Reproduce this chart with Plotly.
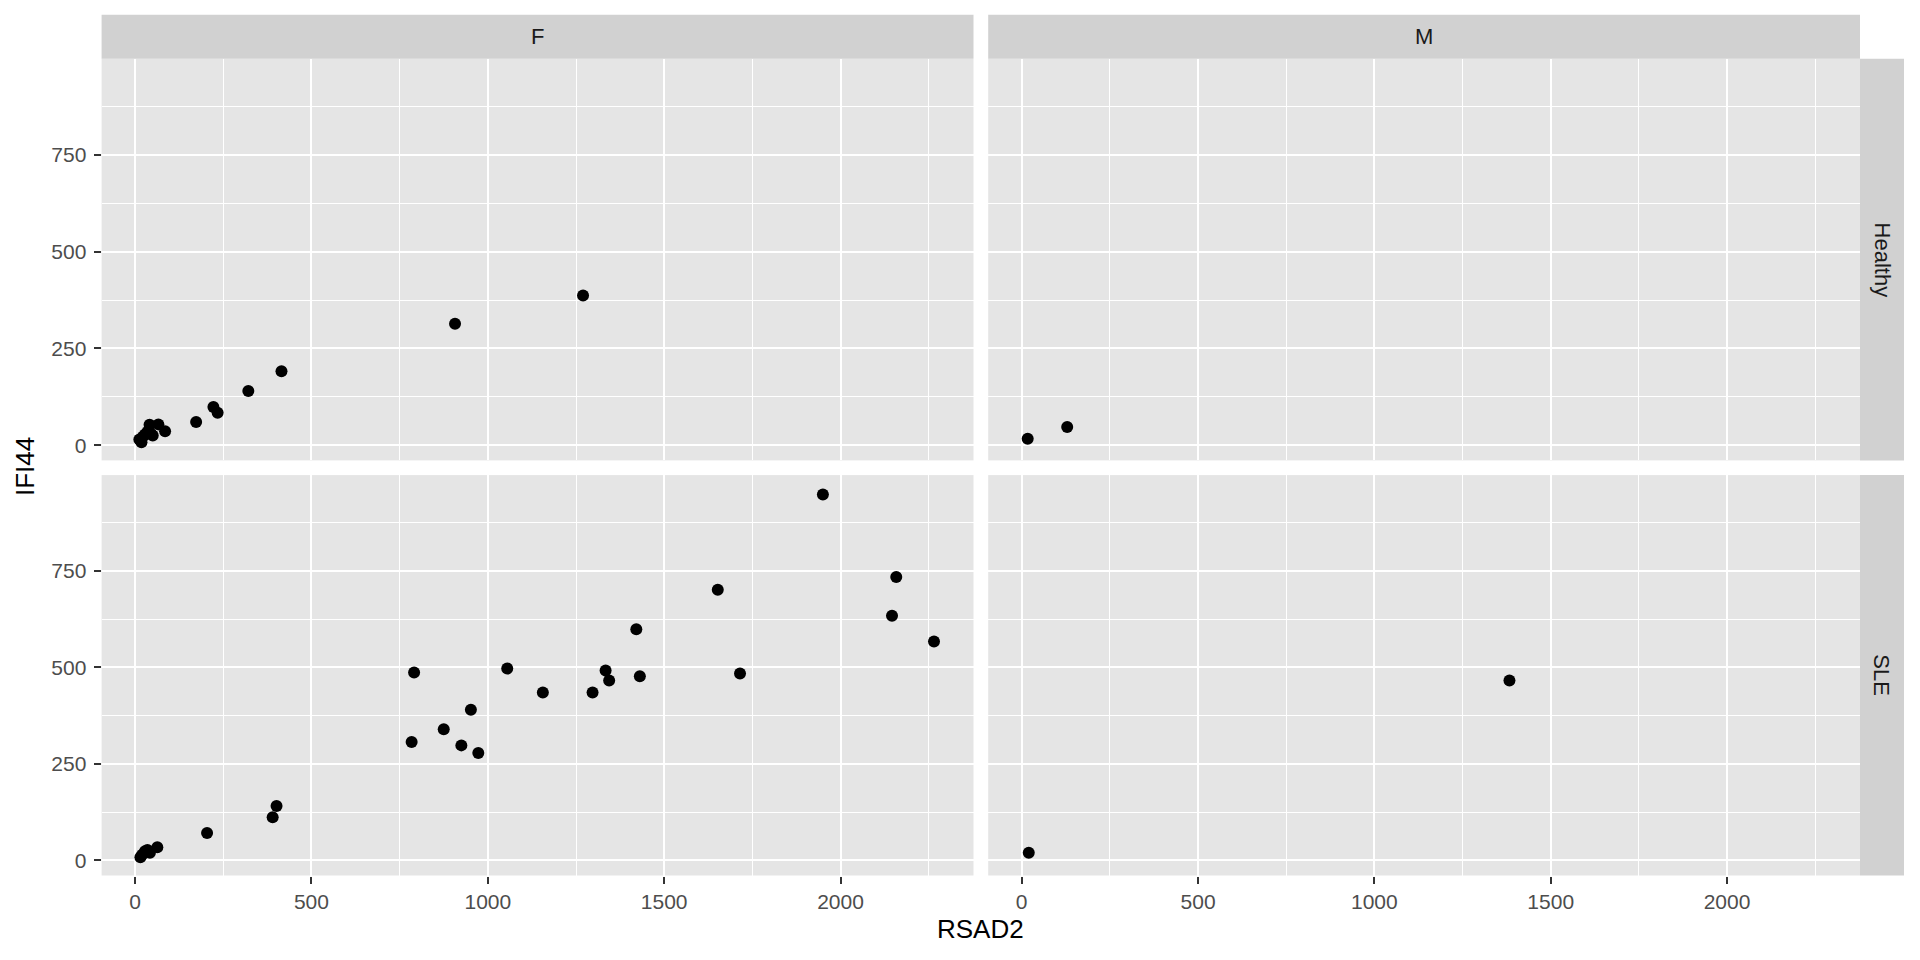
import plotly.graph_objects as go

# ---- data (RSAD2 vs IFI44, faceted by Disease x Sex) ----
sex_levels = ["F", "M"]
disease_levels = ["Healthy", "SLE"]

f_healthy_rsad2 = [12, 18, 22, 28, 35, 41, 45, 50, 66, 85, 173, 222, 234, 321, 415, 907, 1270]
f_healthy_ifi44 = [15, 8, 22, 28, 35, 53, 30, 25, 54, 36, 60, 99, 84, 140, 191, 314, 387]

m_healthy_rsad2 = [17, 129]
m_healthy_ifi44 = [17, 47]

f_sle_rsad2 = [15, 20, 28, 35, 42, 63, 204, 390, 401, 784, 791, 875, 925, 952, 973, 1055,
               1156, 1297, 1334, 1344, 1421, 1431, 1652, 1715, 1950, 2146, 2158, 2265]
f_sle_ifi44 = [8, 15, 24, 27, 20, 34, 71, 112, 141, 307, 487, 340, 298, 390, 278, 497,
               435, 435, 492, 466, 599, 477, 701, 484, 948, 634, 734, 567]

m_sle_rsad2 = [20, 1383]
m_sle_ifi44 = [20, 466]

x_ticks = [0, 500, 1000, 1500, 2000]
y_ticks = [0, 250, 500, 750]

# ---- layout geometry ----
# The page body has an 8px margin, so the figure is 1904x944 and all target
# screen pixel positions are shifted by that offset.
OFF = 8
W, H = 1920 - 2 * OFF, 960 - 2 * OFF

def fx(px):
    return (px - OFF) / W

def fy(py):
    return 1 - (py - OFF) / H

col_dom = [[fx(101.6), fx(973.5)], [fx(988.2), fx(1860)]]
row_dom = {"Healthy": [fy(460.4), fy(58.8)], "SLE": [fy(875.5), fy(475.1)]}
x_range = [-95, 2377]
y_range = [-39, 998]

FONT = "Liberation Sans, Arial, Helvetica, sans-serif"
PANEL_BG = "#E5E5E5"
STRIP_BG = "#D1D1D1"

fig = go.Figure()

panels = [
    ("Healthy", "F", f_healthy_rsad2, f_healthy_ifi44, "x3", "y3"),
    ("Healthy", "M", m_healthy_rsad2, m_healthy_ifi44, "x4", "y4"),
    ("SLE", "F", f_sle_rsad2, f_sle_ifi44, "x", "y"),
    ("SLE", "M", m_sle_rsad2, m_sle_ifi44, "x2", "y2"),
]

for dis, sex, xs, ys, xa, ya in panels:
    fig.add_trace(go.Scatter(
        x=xs, y=ys, mode="markers", xaxis=xa, yaxis=ya,
        marker=dict(color="black", size=12, line=dict(width=0)),
        showlegend=False, hoverinfo="x+y",
    ))

def xaxis_cfg(col, anchor, bottom):
    return dict(
        domain=col_dom[col], anchor=anchor, range=x_range,
        tickmode="array", tickvals=x_ticks, ticktext=[str(v) for v in x_ticks],
        showticklabels=bottom, ticks="outside" if bottom else "",
        ticklen=7, tickwidth=2, tickcolor="#333333",
        tickfont=dict(family=FONT, size=21, color="#4D4D4D"),
        showgrid=True, gridcolor="white", gridwidth=2.2,
        minor=dict(tickvals=[250, 750, 1250, 1750, 2250], showgrid=True,
                   gridcolor="white", gridwidth=1.1, ticks=""),
        zeroline=False, showline=False, fixedrange=True,
    )

def yaxis_cfg(dis, anchor, left):
    return dict(
        domain=row_dom[dis], anchor=anchor, range=y_range,
        tickmode="array", tickvals=y_ticks, ticktext=[str(v) for v in y_ticks],
        showticklabels=left, ticks="outside" if left else "",
        ticklen=7, tickwidth=2, tickcolor="#333333",
        ticklabelstandoff=3,
        tickfont=dict(family=FONT, size=21, color="#4D4D4D"),
        showgrid=True, gridcolor="white", gridwidth=2.2,
        minor=dict(tickvals=[125, 375, 625, 875], showgrid=True,
                   gridcolor="white", gridwidth=1.1, ticks=""),
        zeroline=False, showline=False, fixedrange=True,
    )

fig.update_layout(
    width=W, height=H,
    margin=dict(l=0, r=0, t=0, b=0),
    paper_bgcolor="white", plot_bgcolor=PANEL_BG,
    font=dict(family=FONT),
    xaxis=xaxis_cfg(0, "y", True),
    xaxis2=xaxis_cfg(1, "y2", True),
    xaxis3=xaxis_cfg(0, "y3", False),
    xaxis4=xaxis_cfg(1, "y4", False),
    yaxis=yaxis_cfg("SLE", "x", True),
    yaxis2=yaxis_cfg("SLE", "x2", False),
    yaxis3=yaxis_cfg("Healthy", "x3", True),
    yaxis4=yaxis_cfg("Healthy", "x4", False),
)

shapes = []
annotations = []
# top strips (columns)
for i, sex in enumerate(sex_levels):
    x0, x1 = col_dom[i]
    shapes.append(dict(type="rect", xref="paper", yref="paper", x0=x0, x1=x1,
                       y0=fy(58.8), y1=fy(14.7), fillcolor=STRIP_BG,
                       line=dict(width=0), layer="below"))
    annotations.append(dict(text=sex, xref="paper", yref="paper", x=(x0 + x1) / 2,
                            y=fy(36.75), showarrow=False, xanchor="center", yanchor="middle",
                            font=dict(family=FONT, size=22, color="#1A1A1A")))
# right strips (rows)
for dis in disease_levels:
    y0, y1 = row_dom[dis]
    shapes.append(dict(type="rect", xref="paper", yref="paper", x0=fx(1860), x1=fx(1904),
                       y0=y0, y1=y1, fillcolor=STRIP_BG, line=dict(width=0), layer="below"))
    annotations.append(dict(text=dis, xref="paper", yref="paper", x=fx(1882),
                            y=(y0 + y1) / 2, showarrow=False, xanchor="center", yanchor="middle",
                            textangle=90, font=dict(family=FONT, size=22, color="#1A1A1A")))
# axis titles
annotations.append(dict(text="RSAD2", xref="paper", yref="paper", x=fx(980.8), y=fy(929),
                        showarrow=False, xanchor="center", yanchor="middle",
                        font=dict(family=FONT, size=26, color="black")))
annotations.append(dict(text="IFI44", xref="paper", yref="paper", x=fx(25), y=fy(467),
                        showarrow=False, xanchor="center", yanchor="middle", textangle=-90,
                        font=dict(family=FONT, size=26, color="black")))

fig.update_layout(shapes=shapes, annotations=annotations)

fig.write_html("out.html")
